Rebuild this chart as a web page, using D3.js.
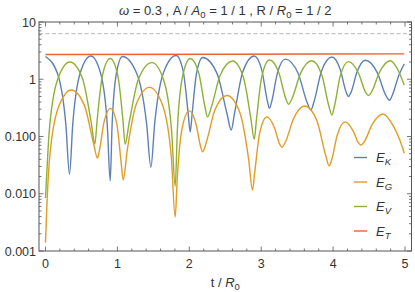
<!DOCTYPE html>
<html>
<head>
<meta charset="utf-8">
<script src="https://cdn.jsdelivr.net/npm/d3@7"></script>
<style>
  body { margin: 0; background: #fff; }
  text { font-family: "Liberation Sans", Arial, sans-serif; fill: #333; }
</style>
</head>
<body>
<div id="chart"></div>
<script>
// energies, [t / R0, value]
var energyK = [
  [0, 2.5], [0.167, 1.26], [0.284, 0.158], [0.334, 0.022], [0.379, 0.161], [0.483, 1.29],
  [0.631, 2.55], [0.766, 1.28], [0.860, 0.156], [0.900, 0.0167], [0.926, 0.153], [0.986, 1.26],
  [1.071, 2.5], [1.269, 1.26], [1.407, 0.165], [1.466, 0.029], [1.519, 0.170], [1.642, 1.31],
  [1.818, 2.6], [1.916, 1.36], [1.984, 0.256], [2.013, 0.12], [2.039, 0.245], [2.100, 1.26],
  [2.186, 2.4], [2.385, 1.265], [2.523, 0.255], [2.583, 0.13], [2.631, 0.263], [2.743, 1.34],
  [2.903, 2.55], [3.009, 1.43], [3.083, 0.433], [3.115, 0.31], [3.148, 0.417], [3.225, 1.28],
  [3.334, 2.25], [3.513, 1.27], [3.637, 0.398], [3.691, 0.29], [3.735, 0.409], [3.837, 1.37],
  [3.983, 2.45], [4.099, 1.475], [4.179, 0.607], [4.214, 0.50], [4.249, 0.59], [4.331, 1.325],
  [4.447, 2.15], [4.616, 1.29], [4.733, 0.524], [4.784, 0.43], [4.824, 0.53], [4.917, 1.2],
  [4.989, 1.85]
];
var energyG = [
  [0, 0.0014], [0.02, 0.0063], [0.054, 0.037], [0.181, 0.326], [0.362, 0.65], [0.5425, 0.346],
  [0.669, 0.0755], [0.723, 0.042], [0.750, 0.0567], [0.8135, 0.176], [0.904, 0.31], [0.9925, 0.164],
  [1.054, 0.0334], [1.081, 0.0174], [1.136, 0.056], [1.2635, 0.369], [1.446, 0.72], [1.625, 0.362],
  [1.750, 0.0433], [1.804, 0.0039], [1.833, 0.0191], [1.9015, 0.142], [1.999, 0.28], [2.0925, 0.167],
  [2.158, 0.0664], [2.186, 0.054], [2.237, 0.0796], [2.3545, 0.287], [2.523, 0.52], [2.701, 0.266],
  [2.826, 0.0396], [2.879, 0.0116], [2.909, 0.0231], [2.979, 0.116], [3.079, 0.22], [3.1835, 0.1425],
  [3.257, 0.0735], [3.288, 0.065], [3.336, 0.080], [3.448, 0.2025], [3.608, 0.34], [3.777, 0.185],
  [3.895, 0.0475], [3.946, 0.0305], [3.979, 0.0387], [4.057, 0.105], [4.168, 0.18], [4.2775, 0.1255],
  [4.354, 0.077], [4.387, 0.071], [4.433, 0.0806], [4.540, 0.159], [4.693, 0.247], [4.84, 0.15],
  [4.93, 0.085], [4.989, 0.051]
];
var energyV = [
  [0, 0.0084], [0.02, 0.025], [0.051, 0.118], [0.17, 1.0], [0.34, 2.0], [0.5135, 1.037],
  [0.635, 0.18], [0.687, 0.074], [0.719, 0.196], [0.7935, 1.187], [0.900, 2.3], [1.004, 1.19],
  [1.077, 0.195], [1.108, 0.073], [1.164, 0.176], [1.294, 1.01], [1.480, 1.95], [1.642, 0.982],
  [1.755, 0.120], [1.804, 0.0135], [1.835, 0.139], [1.9085, 1.157], [2.013, 2.3], [2.133, 1.26],
  [2.217, 0.334], [2.253, 0.22], [2.305, 0.322], [2.427, 1.15], [2.601, 2.08], [2.752, 1.085],
  [2.858, 0.198], [2.903, 0.089], [2.935, 0.203], [3.009, 1.13], [3.115, 2.17], [3.2475, 1.27],
  [3.340, 0.465], [3.380, 0.366], [3.429, 0.46], [3.5425, 1.23], [3.705, 2.1], [3.844, 1.17],
  [3.941, 0.34], [3.983, 0.238], [4.018, 0.337], [4.0985, 1.134], [4.214, 2.03], [4.353, 1.275],
  [4.450, 0.60], [4.492, 0.52], [4.537, 0.607], [4.643, 1.31], [4.794, 2.1], [4.89, 1.55],
  [4.989, 0.79]
];
var energyT = [[0, 2.70], [2.5, 2.73], [4.989, 2.78]];
var referenceLevel = 6.25;

var xTicks = [0, 1, 2, 3, 4, 5];
var yTicks = [0.001, 0.01, 0.1, 1, 10];
var yTickLabels = ["0.001", "0.010", "0.100", "1", "10"];
var legendNames = ["K", "G", "V", "T"];
var colors = ["#5e81b5", "#e19c24", "#8fb032", "#eb6235"];

var w = 415, h = 292;
var plot = {left: 39, right: 411.5, top: 22, bottom: 251};

var svg = d3.select("#chart")
    .append("svg")
    .attr("width", w)
    .attr("height", h);

// scales
var xScale = d3.scaleLinear()
    .domain([-0.09, 5.09])
    .range([plot.left, plot.right]);
var yScale = d3.scaleLog()
    .domain([0.001, 10])
    .range([plot.bottom, plot.top]);

// clip the curves to the frame
svg.append("defs").append("clipPath")
    .attr("id", "clip")
    .append("rect")
    .attr("x", plot.left)
    .attr("y", plot.top)
    .attr("width", plot.right - plot.left)
    .attr("height", plot.bottom - plot.top);

var curves = svg.append("g").attr("clip-path", "url(#clip)");

// dashed reference line
curves.append("line")
    .attr("x1", plot.left)
    .attr("x2", plot.right)
    .attr("y1", yScale(referenceLevel))
    .attr("y2", yScale(referenceLevel))
    .style("stroke", "#c4c4c4")
    .style("stroke-width", 1.3)
    .style("stroke-dasharray", "4,2.5");

var line = d3.line()
    .x(function(d) { return xScale(d[0]); })
    .y(function(d) { return yScale(d[1]); })
    .curve(d3.curveMonotoneX);

[energyK, energyG, energyV, energyT].forEach(function(series, i) {
    curves.append("path")
        .datum(series)
        .attr("d", line)
        .style("fill", "none")
        .style("stroke", colors[i])
        .style("stroke-width", 1.4)
        .style("stroke-linejoin", "round");
});

// frame
svg.append("rect")
    .attr("x", plot.left)
    .attr("y", plot.top)
    .attr("width", plot.right - plot.left)
    .attr("height", plot.bottom - plot.top)
    .style("fill", "none")
    .style("stroke", "#555")
    .style("stroke-width", 1);

var ticks = svg.append("g").style("stroke", "#555").style("stroke-width", 0.8);

// x ticks, major and minor, bottom and top
d3.range(0, 5.01, 0.2).forEach(function(t) {
    var major = Math.abs(t - Math.round(t)) < 1e-6;
    var len = major ? 4.5 : 2.5;
    var x = xScale(t);
    ticks.append("line").attr("x1", x).attr("x2", x)
        .attr("y1", plot.bottom).attr("y2", plot.bottom - len);
    ticks.append("line").attr("x1", x).attr("x2", x)
        .attr("y1", plot.top).attr("y2", plot.top + len);
});

// y ticks on a log scale, left and right
yTicks.forEach(function(base, k) {
    var steps = k < yTicks.length - 1 ? d3.range(1, 10) : [1];
    steps.forEach(function(m) {
        var v = base * m;
        var len = m == 1 ? 4.5 : 2.5;
        var y = yScale(v);
        ticks.append("line").attr("x1", plot.left).attr("x2", plot.left + len)
            .attr("y1", y).attr("y2", y);
        ticks.append("line").attr("x1", plot.right).attr("x2", plot.right - len)
            .attr("y1", y).attr("y2", y);
    });
});

// tick labels
svg.selectAll(".xlabel")
    .data(xTicks)
    .enter()
    .append("text")
    .attr("x", function(d) { return xScale(d); })
    .attr("y", 267.5)
    .attr("text-anchor", "middle")
    .style("font-size", "12.5px")
    .text(function(d) { return d; });

svg.selectAll(".ylabel")
    .data(yTicks)
    .enter()
    .append("text")
    .attr("x", 36)
    .attr("y", function(d) { return yScale(d) + 4.5; })
    .attr("text-anchor", "end")
    .style("font-size", "12.5px")
    .text(function(d, i) { return yTickLabels[i]; });

// axis label
var xl = svg.append("text")
    .attr("x", (plot.left + plot.right) / 2)
    .attr("y", 287)
    .attr("text-anchor", "middle")
    .style("font-size", "13px");
xl.append("tspan").text("t / ");
xl.append("tspan").style("font-style", "italic").text("R");
xl.append("tspan").attr("dy", 3).style("font-size", "9.5px").text("0");

// title
var title = svg.append("text")
    .attr("x", (plot.left + plot.right) / 2)
    .attr("y", 15)
    .attr("text-anchor", "middle")
    .style("font-size", "13px");
title.append("tspan").style("font-style", "italic").text("ω");
title.append("tspan").text(" = 0.3 , A / ");
title.append("tspan").style("font-style", "italic").text("A");
title.append("tspan").attr("dy", 3).style("font-size", "9.5px").text("0");
title.append("tspan").attr("dy", -3).text(" = 1 / 1 , R / ");
title.append("tspan").style("font-style", "italic").text("R");
title.append("tspan").attr("dy", 3).style("font-size", "9.5px").text("0");
title.append("tspan").attr("dy", -3).text(" = 1 / 2");

// legend
var legend = svg.append("g");
legendNames.forEach(function(name, i) {
    var y = 157.5 + i * 24.5;
    legend.append("line")
        .attr("x1", 354).attr("x2", 367)
        .attr("y1", y).attr("y2", y)
        .style("stroke", colors[i])
        .style("stroke-width", 1.4);
    var lt = legend.append("text")
        .attr("x", 376)
        .attr("y", y + 4.5)
        .style("font-size", "13px")
        .style("font-style", "italic");
    lt.append("tspan").text("E");
    lt.append("tspan").attr("dy", 3).style("font-size", "9.5px").text(name);
});
</script>
</body>
</html>
